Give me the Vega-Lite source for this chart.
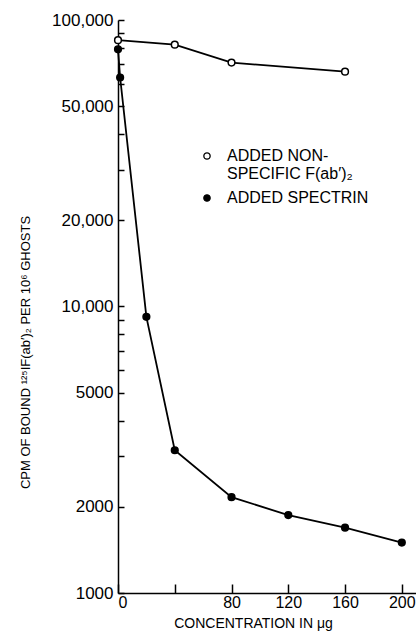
{
  "$schema": "https://vega.github.io/schema/vega-lite/v6.json",
  "autosize": "none",
  "padding": {"left": 118, "top": 20, "right": 0, "bottom": 46},
  "width": 298,
  "height": 573,
  "background": "white",
  "config": {
    "view": {"stroke": null},
    "font": "Liberation Sans",
    "axis": {"domainColor": "black", "tickColor": "black", "labelColor": "black", "titleColor": "black", "grid": false, "domainWidth": 1.5, "tickWidth": 1.5, "labelFont": "Liberation Sans", "titleFont": "Liberation Sans", "titleFontWeight": "normal"}
  },
  "data": {
    "values": [
      {"series": "ADDED NON-SPECIFIC", "conc": 0, "cpm": 85000},
      {"series": "ADDED NON-SPECIFIC", "conc": 40, "cpm": 82000},
      {"series": "ADDED NON-SPECIFIC", "conc": 80, "cpm": 71000},
      {"series": "ADDED NON-SPECIFIC", "conc": 160, "cpm": 66000},
      {"series": "ADDED SPECTRIN", "conc": 0, "cpm": 79000},
      {"series": "ADDED SPECTRIN", "conc": 1.5, "cpm": 63000},
      {"series": "ADDED SPECTRIN", "conc": 20, "cpm": 9200},
      {"series": "ADDED SPECTRIN", "conc": 40, "cpm": 3150},
      {"series": "ADDED SPECTRIN", "conc": 80, "cpm": 2160},
      {"series": "ADDED SPECTRIN", "conc": 120, "cpm": 1870},
      {"series": "ADDED SPECTRIN", "conc": 160, "cpm": 1690},
      {"series": "ADDED SPECTRIN", "conc": 200, "cpm": 1500}
    ]
  },
  "encoding": {
    "x": {
      "field": "conc", "type": "quantitative",
      "scale": {"domain": [0, 210], "nice": false, "zero": false},
      "axis": {
        "values": [0, 40, 80, 120, 160, 200],
        "labelExpr": "datum.value == 40 ? '' : datum.label",
        "tickSize": -9,
        "labelPadding": 10,
        "labelFontSize": 16,
        "title": "CONCENTRATION IN μg",
        "titleFontSize": 14,
        "titlePadding": 6,
        "titleX": 135
      }
    },
    "y": {
      "field": "cpm", "type": "quantitative",
      "scale": {"type": "log", "domain": [1000, 100000], "nice": false},
      "axis": {
        "values": [1000, 2000, 3000, 4000, 5000, 6000, 7000, 8000, 9000, 10000, 20000, 30000, 40000, 50000, 60000, 70000, 80000, 90000, 100000],
        "labelExpr": "indexof([1000,2000,5000,10000,20000,50000,100000], datum.value) < 0 ? '' : (datum.value >= 10000 ? format(datum.value, ',') : format(datum.value, 'd'))",
        "tickSize": -6,
        "labelPadding": 11,
        "labelFontSize": 17,
        "title": "CPM OF BOUND ¹²⁵IF(ab′)₂ PER 10⁶ GHOSTS",
        "titleFontSize": 13,
        "titleAlign": "center",
        "titleAngle": -90,
        "titleBaseline": "bottom",
        "titleX": -86,
        "titleY": 332
      }
    }
  },
  "layer": [
    {
      "mark": {"type": "line", "color": "black", "strokeWidth": 1.8},
      "encoding": {"detail": {"field": "series"}}
    },
    {
      "mark": {"type": "point", "shape": "circle", "stroke": "black", "strokeWidth": 1.5, "opacity": 1, "size": 45, "filled": false},
      "encoding": {
        "fill": {
          "field": "series", "type": "nominal",
          "scale": {"domain": ["ADDED NON-SPECIFIC", "ADDED SPECTRIN"], "range": ["white", "black"]},
          "legend": {
            "title": null,
            "orient": "none",
            "legendX": 81,
            "legendY": 128,
            "symbolType": "circle",
            "symbolSize": 40,
            "symbolStrokeColor": "black",
            "symbolStrokeWidth": 1.3,
            "labelFontSize": 16,
            "labelColor": "black",
            "labelFont": "Liberation Sans",
            "labelLimit": 300,
            "rowPadding": 8,
            "labelOffset": 12,
            "labelExpr": "datum.value == 'ADDED NON-SPECIFIC' ? ['ADDED NON-', 'SPECIFIC F(ab′)₂'] : datum.value"
          }
        }
      }
    }
  ]
}
